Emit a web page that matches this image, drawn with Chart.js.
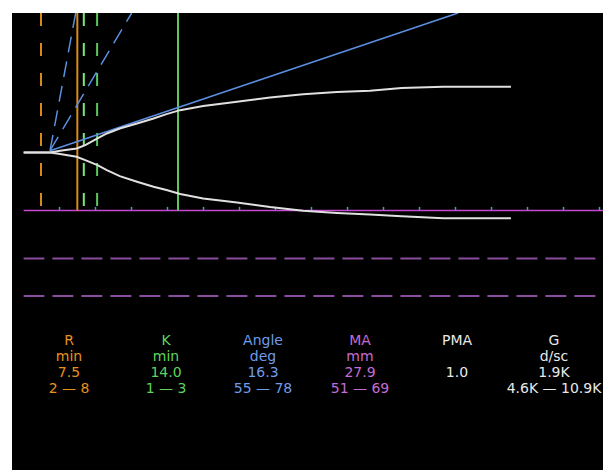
<!DOCTYPE html>
<html>
<head>
<meta charset="utf-8">
<script src="https://cdn.jsdelivr.net/npm/chart.js@4.4.1/dist/chart.umd.min.js"></script>
<style>
  html, body { margin: 0; padding: 0; background: #fff; }
  #panel { position: absolute; left: 12px; top: 13px; width: 591px; height: 457px; background: #000; overflow: hidden; }
  #wrap { position: absolute; left: 0; top: 0; width: 591px; height: 300px; }
  .cell { position: absolute; width: 96px; margin-left: -48px; text-align: center;
          font-family: "DejaVu Sans", sans-serif; font-size: 14px; line-height: 16px; white-space: nowrap; }
</style>
</head>
<body>
<div id="panel">
  <div id="wrap"><canvas id="teg"></canvas></div>
</div>
<script>
// tracing, time in minutes, half amplitude in mm-ish units
const traceTime  = [0, 3.7, 5.1, 7.4, 8.6, 10.3, 11.6, 13.4, 15.8, 18.1, 19.9, 21.8, 25.0, 29.7, 34.3, 38.9, 43.6, 48.2, 52.6, 58.4, 67.8];
const traceUpper = [0, 0, 0.8, 1.9, 3.5, 6.7, 9.1, 11.5, 13.9, 16.3, 18.4, 20.3, 22.3, 24.3, 26.4, 28.0, 29.0, 29.6, 30.9, 31.5, 31.5];
const traceLower = [0, 0, -0.8, -2.1, -3.7, -6.1, -8.5, -11.4, -14.1, -16.5, -18.1, -20.0, -22.2, -24.1, -26.3, -28.0, -29.1, -29.9, -30.7, -31.6, -31.7];

const timeMax  = 80.6;
const ampMax   = 67;
const ampMin   = -77.2;
const tickStep = 5;

const maValue  = 27.9;
const maRange  = [51, 69];
const rValue   = 7.5;
const rDashed  = [2.45];
const kSolid   = 21.5;
const kDashed  = [8.4, 10.25];

const angleOrigin = [3.7, 0.8];
const angleSolidEnd  = 60.45;
const angleDashedEnd = [7.27, 15.06];

const statNames  = ['R', 'K', 'Angle', 'MA', 'PMA', 'G'];
const statUnits  = ['min', 'min', 'deg', 'mm', '', 'd/sc'];
const statValues = ['7.5', '14.0', '16.3', '27.9', '1.0', '1.9K'];
const statRanges = ['2 — 8', '1 — 3', '55 — 78', '51 — 69', '', '4.6K — 10.9K'];
const statColors = ['#e8901e', '#5fd35f', '#6f9be8', '#c46cd4', '#e8e8e8', '#e8e8e8'];

const C_ORANGE = '#d98a1c';
const C_GREEN  = '#5cc85c';
const C_LGREEN = '#78e878';
const C_BLUE   = '#5b8fe0';
const C_PURPLE = '#c848d0';
const C_PDASH  = '#8a4c9c';
const C_TRACE  = '#e0e0e0';

function pts(xs, ys){ return xs.map((x, i) => ({x: x, y: ys[i]})); }
function hLine(y){ return [{x: 0, y: y}, {x: timeMax, y: y}]; }
function vLine(x){ return [{x: x, y: ampMax}, {x: x, y: -maValue}]; }
function line(data, color, width, dash){
  return { data: data, borderColor: color, borderWidth: width, borderDash: dash || [],
           pointRadius: 0, fill: false, tension: 0 };
}

const datasets = [];
datasets.push(line(pts(traceTime, traceUpper), C_TRACE, 2));
datasets.push(line(pts(traceTime, traceLower), C_TRACE, 2));
datasets.push(line([{x: angleOrigin[0], y: angleOrigin[1]}, {x: angleSolidEnd, y: ampMax}], C_BLUE, 1.6));
for (let e of angleDashedEnd){
  datasets.push(line([{x: angleOrigin[0], y: angleOrigin[1]}, {x: e, y: ampMax}], C_BLUE, 1.5, [16, 9]));
}
datasets.push(line(vLine(rValue), C_ORANGE, 2));
for (let x of rDashed) datasets.push(line(vLine(x), C_ORANGE, 2, [13, 17]));
datasets.push(line(vLine(kSolid), C_GREEN, 2));
datasets.push(line(vLine(kDashed[0]), C_LGREEN, 2, [13, 17]));
datasets.push(line(vLine(kDashed[1]), C_GREEN, 2, [13, 17]));
datasets.push(line(hLine(-maValue), C_PURPLE, 1.6));
for (let m of maRange) datasets.push(line(hLine(-m), C_PDASH, 2, [21, 8]));

// little cyan marks on the time base line
const timeTicks = {
  id: 'timeTicks',
  beforeDatasetsDraw(chart){
    const xs = chart.scales.x, ys = chart.scales.y, ctx = chart.ctx;
    const yb = ys.getPixelForValue(-maValue);
    ctx.save();
    ctx.strokeStyle = '#3fa0d8';
    ctx.lineWidth = 1.5;
    for (let t = tickStep; t <= timeMax; t += tickStep){
      const px = Math.round(xs.getPixelForValue(t)) + 0.5;
      ctx.beginPath();
      ctx.moveTo(px, yb - 3.5);
      ctx.lineTo(px, yb);
      ctx.stroke();
    }
    ctx.restore();
  }
};

new Chart(document.getElementById('teg').getContext('2d'), {
  type: 'line',
  data: { datasets: datasets },
  options: {
    responsive: true,
    maintainAspectRatio: false,
    animation: false,
    layout: { padding: { left: 11.4, right: 0, top: 0, bottom: 0 } },
    plugins: { legend: { display: false }, tooltip: { enabled: false } },
    scales: {
      x: { type: 'linear', min: 0, max: timeMax, display: false },
      y: { type: 'linear', min: ampMin, max: ampMax, display: false }
    }
  },
  plugins: [timeTicks]
});

// value table under the tracing
const panel = document.getElementById('panel');
const rows = [statNames, statUnits, statValues, statRanges];
for (let c = 0; c < statNames.length; c++){
  for (let r = 0; r < rows.length; r++){
    const d = document.createElement('div');
    d.className = 'cell';
    d.style.left = (57 + c * 97) + 'px';
    d.style.top = (319 + r * 16) + 'px';
    d.style.color = statColors[c];
    d.textContent = rows[r][c];
    panel.appendChild(d);
  }
}
</script>
</body>
</html>
